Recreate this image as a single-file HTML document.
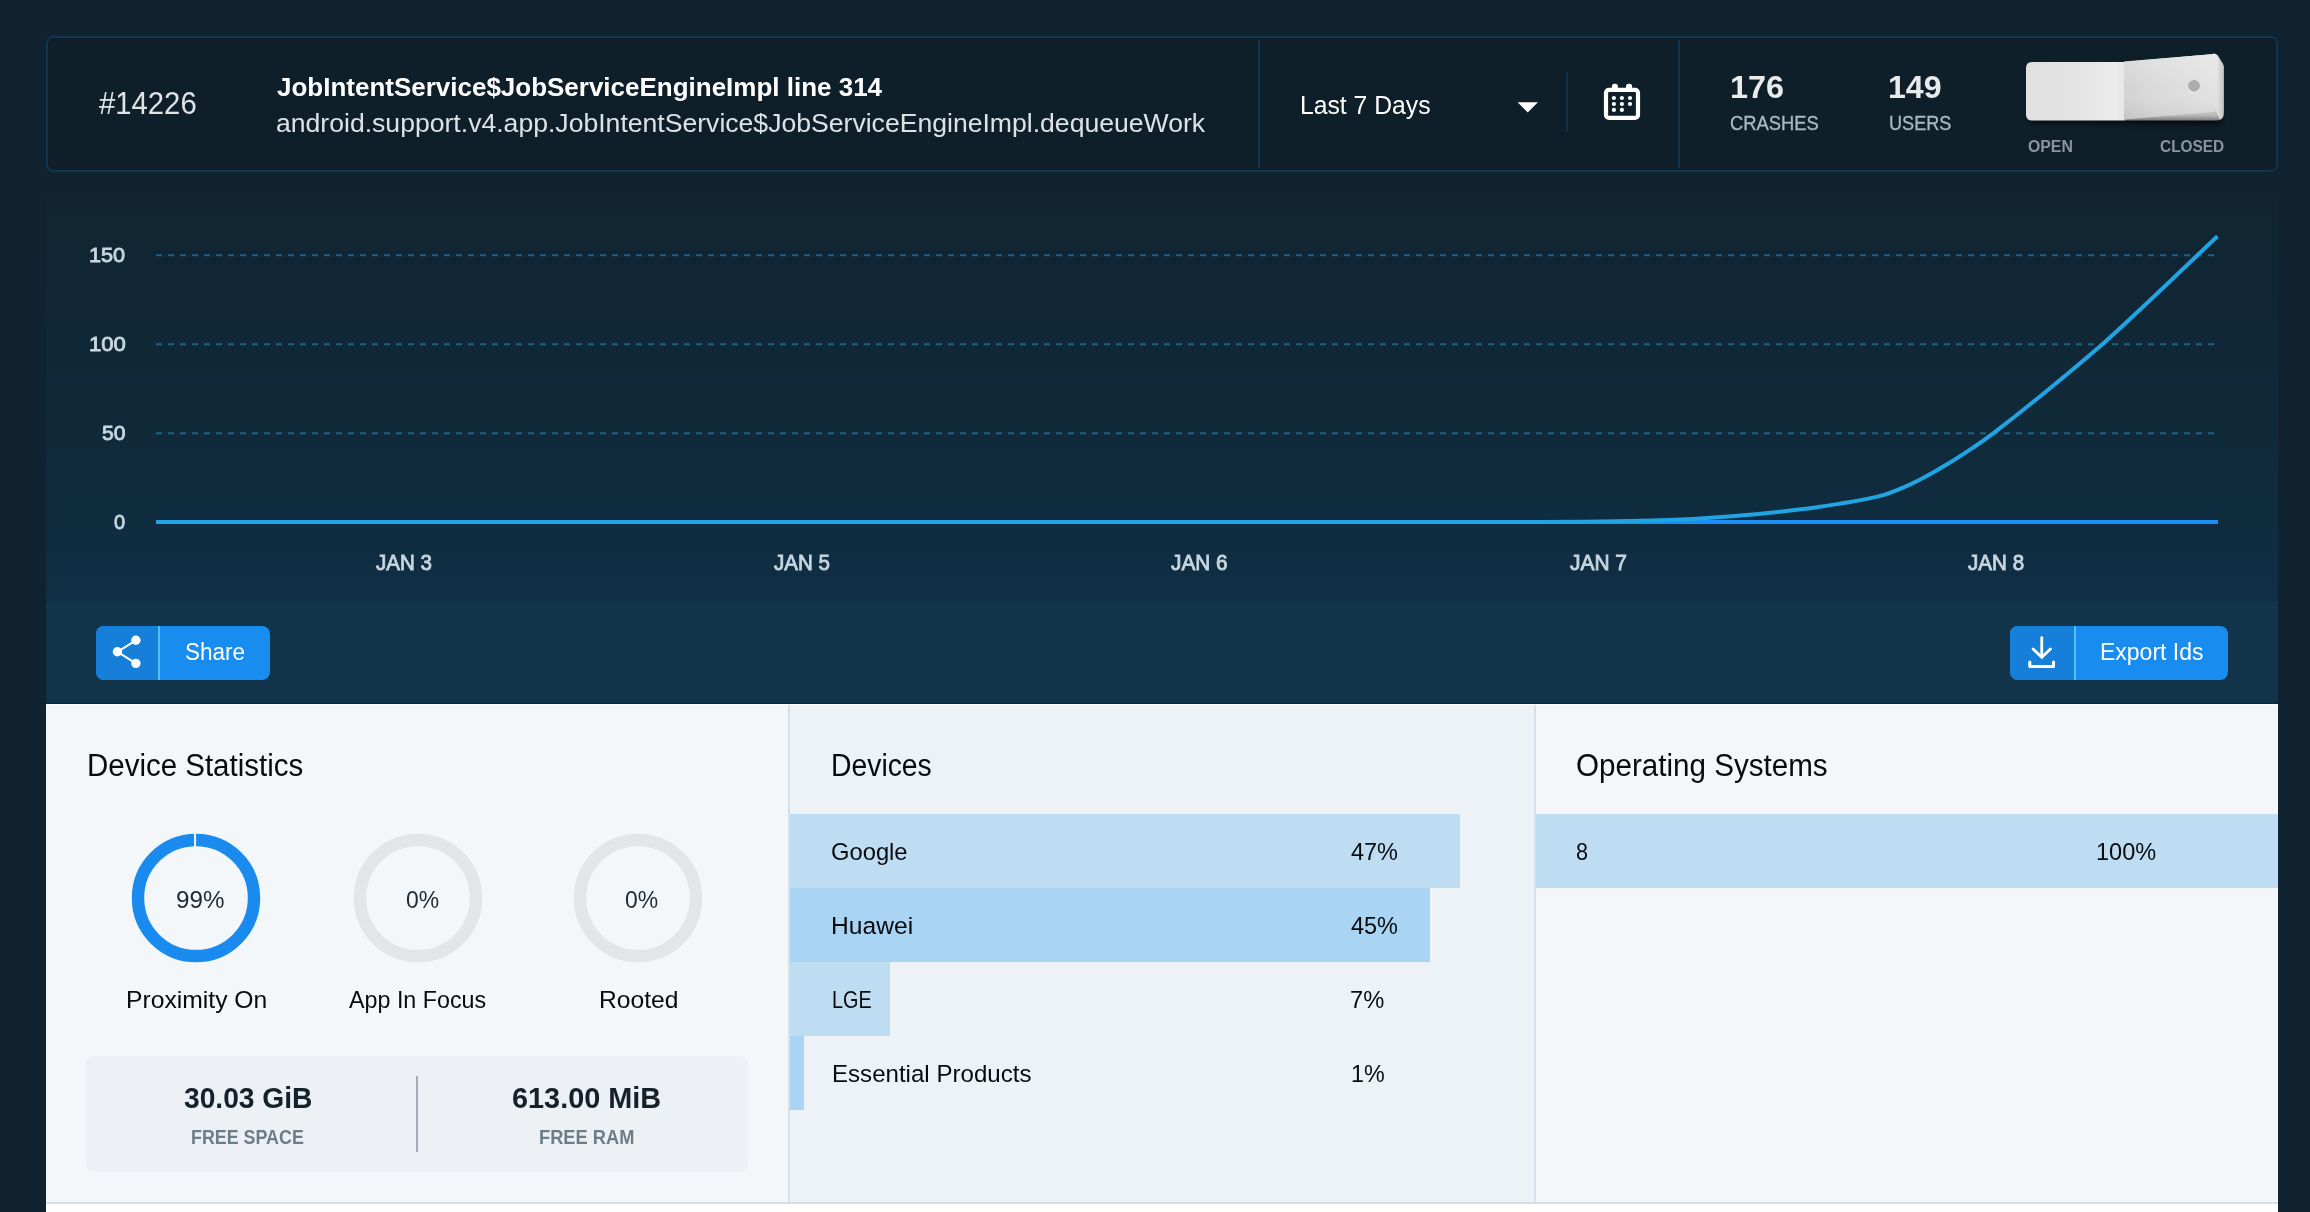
<!DOCTYPE html>
<html lang="en">
<head>
<meta charset="utf-8">
<title>Crash #14226</title>
<style>
*{box-sizing:border-box;margin:0;padding:0}
html,body{width:2310px;height:1212px;overflow:hidden}
body{background:#112330;font-family:"Liberation Sans",sans-serif;position:relative}
.abs{position:absolute}
.t{position:absolute;white-space:nowrap;line-height:1;transform-origin:0 0;display:block}
#hdr{position:absolute;left:46px;top:36px;width:2232px;height:136px;border:2px solid #12354f;border-radius:7px;background:#0e1f29}
#hdr .vsep{position:absolute;top:2px;width:2px;height:128px;background:#11334d}
#chart{position:absolute;left:46px;top:172px;width:2232px;height:430px;background:linear-gradient(to bottom,#112330 0%,#112431 6%,#102938 55%,#0f2f45 100%)}
#actions{position:absolute;left:46px;top:602px;width:2232px;height:102px;background:#11344a;border-bottom:1px solid #072a43}
.btn{position:absolute;top:24px;height:54px;border-radius:8px;background:#198cf0;overflow:hidden}
.btn .ic{position:absolute;left:0;top:0;height:54px;background:#167fda}
.btn .dv{position:absolute;top:0;width:2px;height:54px;background:#4fc3f0}
.panel{position:absolute;top:704px;height:498px;box-shadow:inset 0 1px 0 #fff}
#p1{left:46px;width:742px;background:#f4f7fa}
#p2{left:790px;width:744px;background:#edf2f6}
#p3{left:1536px;width:742px;background:#f4f7fa}
.psep{position:absolute;top:704px;width:2px;height:498px;background:#d7e0e8;box-shadow:inset 0 1px 0 #f6f9fb}
.bar{position:absolute;left:0;height:74px}
#foot{position:absolute;left:46px;top:1202px;width:2232px;height:10px;background:#ffffff;border-top:2px solid #d6dfe8}
#statbox{position:absolute;left:40px;top:352px;width:662px;height:116px;border-radius:7px;background:#edf1f5}
#statbox i{position:absolute;left:330px;top:20px;width:2px;height:76px;background:#a3adb5}
</style>
</head>
<body>

<div id="hdr">
  <div class="vsep" style="left:1210px"></div>
  <div class="vsep" style="left:1630px"></div>
  <div class="abs" style="left:1518px;top:34px;width:2px;height:60px;border-radius:1px;background:#11304a"></div>
  <!-- dropdown caret -->
  <svg class="abs" style="left:1469px;top:64px" width="22" height="12" viewBox="0 0 22 12"><path d="M0.6 0.2 H20.9 L10.75 10.5 Z" fill="#ffffff"/></svg>
  <!-- calendar icon -->
  <svg class="abs" style="left:1554px;top:44px" width="40" height="40" viewBox="0 0 40 40">
    <rect x="4" y="7.95" width="32" height="28" rx="3" fill="none" stroke="#fff" stroke-width="4.2"/>
    <rect x="9.9" y="1.8" width="6" height="6" rx="2.6" fill="#fff"/>
    <rect x="24" y="1.8" width="6.1" height="6" rx="2.6" fill="#fff"/>
    <g fill="#fff">
      <circle cx="11.9" cy="16" r="2.1"/><circle cx="19.9" cy="16" r="2.1"/><circle cx="28" cy="16" r="2.1"/>
      <circle cx="11.9" cy="22" r="2.1"/><circle cx="19.9" cy="22" r="2.1"/><circle cx="28" cy="22" r="2.1"/>
      <circle cx="11.9" cy="27.9" r="2.1"/><circle cx="19.9" cy="27.9" r="2.1"/>
    </g>
  </svg>
  <svg class="abs" style="left:1968px;top:8px" width="220" height="90" viewBox="0 0 220 90">
<defs>
<linearGradient id="gl" x1="0" y1="0" x2="1" y2="0"><stop offset="0" stop-color="#e0e0e0"/><stop offset="0.55" stop-color="#e4e4e4"/><stop offset="0.9" stop-color="#ececec"/><stop offset="1" stop-color="#e6e6e6"/></linearGradient>
<linearGradient id="gr" x1="0" y1="0" x2="1" y2="0"><stop offset="0" stop-color="#d3d3d3"/><stop offset="0.3" stop-color="#dadada"/><stop offset="1" stop-color="#e3e3e3"/></linearGradient>
<linearGradient id="gv" x1="0" y1="0" x2="0" y2="1"><stop offset="0" stop-color="#fff" stop-opacity="0.22"/><stop offset="0.5" stop-color="#fff" stop-opacity="0"/><stop offset="1" stop-color="#000" stop-opacity="0.07"/></linearGradient>
<linearGradient id="gs" x1="0" y1="0" x2="0" y2="1"><stop offset="0" stop-color="#f2f2f2"/><stop offset="0.8" stop-color="#dcdcdc"/><stop offset="0.93" stop-color="#b4b4b4"/><stop offset="1" stop-color="#7c7c7c"/></linearGradient>
<linearGradient id="gside" x1="0" y1="0" x2="1" y2="0"><stop offset="0" stop-color="#f3f3f3"/><stop offset="1" stop-color="#c4c4c4"/></linearGradient>
<filter id="sh" x="-10%" y="-40%" width="120%" height="200%"><feGaussianBlur stdDeviation="2.4"/></filter>
</defs>
<path d="M14.0 71.0 L205.0 69.0 L205.0 78.5 L14.0 77.0 Z" fill="#000" opacity="0.6" filter="url(#sh)"/>
<path d="M108.0 16.0 L198.0 8.0 L207.6 20.0 L207.6 68.0 Q207.6 74.5 201.0 74.5 L108.0 74.5 Z" fill="url(#gs)"/>
<path d="M197.0 7.6 Q200.0 7.4 201.8 9.6 L206.6 17.2 Q207.6 18.8 207.6 21.0 L207.6 67.0 Q207.6 71.5 204.0 73.5 L200.5 66.0 Z" fill="url(#gside)"/>
<path d="M16.0 16.0 L108.6 16.0 L108.6 74.5 L16.0 74.5 Q10.0 74.5 10.0 68.5 L10.0 22.0 Q10.0 16.0 16.0 16.0 Z" fill="url(#gl)"/>
<path d="M108.1 15.6 L195.5 8.2 Q201.4 7.7 201.6 13.5 L201.6 60.5 Q201.6 65.6 196.5 66.0 L108.1 73.6 Z" fill="url(#gr)"/>
<path d="M108.1 15.6 L195.5 8.2 Q201.4 7.7 201.6 13.5 L201.6 60.5 Q201.6 65.6 196.5 66.0 L108.1 73.6 Z" fill="url(#gv)"/>
<circle cx="178" cy="40.0" r="5.9" fill="#adadad"/>
<path d="M172.6 43.2 A6.1 6.1 0 0 0 183.4 43.2" fill="none" stroke="#f4f4f4" stroke-width="1.2" opacity="0.9"/>
</svg>
  <span class="t" style="left:50.70px;top:50.01px;font-size:31.0px;font-weight:400;color:#dfe3e6;transform:scaleX(0.9442)">#14226</span>
  <span class="t" style="left:229.00px;top:36.01px;font-size:26.2px;font-weight:700;color:#ffffff;transform:scaleX(0.9922)">JobIntentService$JobServiceEngineImpl line 314</span>
  <span class="t" style="left:228.48px;top:72.01px;font-size:26.2px;font-weight:400;color:#dde2e6;transform:scaleX(1.0152)">android.support.v4.app.JobIntentService$JobServiceEngineImpl.dequeueWork</span>
  <span class="t" style="left:1251.71px;top:54.01px;font-size:26.2px;font-weight:400;color:#ffffff;transform:scaleX(0.9443)">Last 7 Days</span>
  <span class="t" style="left:1681.98px;top:33.01px;font-size:32.0px;font-weight:700;color:#e8eaec;transform:scaleX(1.0120)">176</span>
  <span class="t" style="left:1682.11px;top:74.52px;font-size:20.6px;font-weight:400;color:#a9b8c3;transform:scaleX(0.8914);-webkit-text-stroke:0.35px #a9b8c3">CRASHES</span>
  <span class="t" style="left:1839.89px;top:33.01px;font-size:32.0px;font-weight:700;color:#e8eaec;transform:scaleX(1.0041)">149</span>
  <span class="t" style="left:1840.52px;top:74.52px;font-size:20.6px;font-weight:400;color:#a9b8c3;transform:scaleX(0.8784);-webkit-text-stroke:0.35px #a9b8c3">USERS</span>
  <span class="t" style="left:1980.00px;top:101.01px;font-size:16.0px;font-weight:700;color:#8b959d;transform:scaleX(0.9891)">OPEN</span>
  <span class="t" style="left:2111.90px;top:101.01px;font-size:16.0px;font-weight:700;color:#8b959d;transform:scaleX(0.9634)">CLOSED</span>
</div>

<div id="chart">
  <svg class="abs" style="left:0;top:0" width="2232" height="430" viewBox="0 0 2232 430">
<line x1="110" x2="2172" y1="83.25" y2="83.25" stroke="#1c6385" stroke-width="2.2" stroke-dasharray="6 6"/>
<line x1="110" x2="2172" y1="172.25" y2="172.25" stroke="#1c6385" stroke-width="2.2" stroke-dasharray="6 6"/>
<line x1="110" x2="2172" y1="261.25" y2="261.25" stroke="#1c6385" stroke-width="2.2" stroke-dasharray="6 6"/>
<line x1="110" x2="2172" y1="350" y2="350" stroke="#1b8df5" stroke-width="4"/>
<path d="M110.0 350.0 C317.3 350.0 1123.3 350.0 1354.0 350.0 C1584.7 350.0 1460.7 350.1 1494.0 350.0 C1527.3 349.9 1535.3 349.8 1554.0 349.6 C1572.7 349.4 1588.7 349.2 1606.0 348.6 C1623.3 348.0 1640.6 347.3 1657.9 346.2 C1675.2 345.1 1692.5 343.8 1709.8 342.2 C1727.1 340.6 1747.4 338.3 1761.8 336.5 C1776.2 334.7 1786.3 332.9 1796.4 331.3 C1806.5 329.7 1815.2 328.1 1822.4 326.6 C1829.6 325.1 1833.9 324.1 1839.7 322.3 C1845.5 320.5 1851.2 318.1 1857.0 315.7 C1862.8 313.2 1867.1 311.4 1874.3 307.6 C1881.5 303.8 1891.6 298.1 1900.3 292.8 C1909.0 287.6 1918.4 281.4 1926.3 276.1 C1934.2 270.8 1936.4 269.6 1947.5 261.1 C1958.6 252.6 1974.8 240.0 1993.0 225.2 C2011.2 210.4 2038.2 188.0 2056.4 172.2 C2074.6 156.4 2086.1 145.0 2101.9 130.2 C2117.7 115.4 2139.8 94.2 2151.4 83.2 C2163.0 72.2 2168.2 67.4 2171.5 64.2" fill="none" stroke="#20a4e4" stroke-width="4" stroke-linejoin="round"/>
</svg>
  <span class="t" style="left:43.27px;top:72.30px;font-size:21.1px;font-weight:400;color:#c7d6e0;transform:scaleX(1.0280);-webkit-text-stroke:0.85px #c7d6e0">150</span>
  <span class="t" style="left:42.55px;top:161.30px;font-size:21.1px;font-weight:400;color:#c7d6e0;transform:scaleX(1.0489);-webkit-text-stroke:0.85px #c7d6e0">100</span>
  <span class="t" style="left:55.90px;top:250.30px;font-size:21.1px;font-weight:400;color:#c7d6e0;transform:scaleX(1.0030);-webkit-text-stroke:0.85px #c7d6e0">50</span>
  <span class="t" style="left:68.30px;top:339.30px;font-size:21.1px;font-weight:400;color:#c7d6e0;transform:scaleX(0.9455);-webkit-text-stroke:0.85px #c7d6e0">0</span>
  <span class="t" style="left:330.00px;top:380.41px;font-size:21.6px;font-weight:400;color:#c7d6e0;transform:scaleX(0.9525);-webkit-text-stroke:0.85px #c7d6e0">JAN 3</span>
  <span class="t" style="left:728.30px;top:380.41px;font-size:21.6px;font-weight:400;color:#c7d6e0;transform:scaleX(0.9525);-webkit-text-stroke:0.85px #c7d6e0">JAN 5</span>
  <span class="t" style="left:1125.40px;top:380.41px;font-size:21.6px;font-weight:400;color:#c7d6e0;transform:scaleX(0.9627);-webkit-text-stroke:0.85px #c7d6e0">JAN 6</span>
  <span class="t" style="left:1523.70px;top:380.41px;font-size:21.6px;font-weight:400;color:#c7d6e0;transform:scaleX(0.9690);-webkit-text-stroke:0.85px #c7d6e0">JAN 7</span>
  <span class="t" style="left:1921.50px;top:380.41px;font-size:21.6px;font-weight:400;color:#c7d6e0;transform:scaleX(0.9542);-webkit-text-stroke:0.85px #c7d6e0">JAN 8</span>
</div>

<div id="actions">
  <div class="btn" style="left:50px;width:174px">
    <div class="ic" style="width:62px"></div><div class="dv" style="left:62px"></div>
    <svg class="abs" style="left:14px;top:8px" width="36" height="38" viewBox="0 0 36 38">
      <path d="M25.9 6.3 L7.4 17.8 L25.9 29.4" fill="none" stroke="#fff" stroke-width="2" stroke-linejoin="round"/>
      <circle cx="25.9" cy="6.3" r="4.7" fill="#fff"/><circle cx="7.4" cy="17.8" r="4.7" fill="#fff"/><circle cx="25.9" cy="29.4" r="4.7" fill="#fff"/>
    </svg>
  </div>
  <div class="btn" style="left:1964px;width:218px">
    <div class="ic" style="width:64px"></div><div class="dv" style="left:64px"></div>
    <svg class="abs" style="left:16px;top:8px" width="32" height="36" viewBox="0 0 32 36">
      <path d="M15.75 3.6 V23" fill="none" stroke="#fff" stroke-width="2.8" stroke-linecap="round"/>
      <path d="M7.1 15 L15.75 23.3 L24.4 14.9" fill="none" stroke="#fff" stroke-width="2.8" stroke-linecap="round" stroke-linejoin="miter"/>
      <path d="M3.8 28 V32.4 H27.5 V28" fill="none" stroke="#fff" stroke-width="3" stroke-linecap="round" stroke-linejoin="round"/>
    </svg>
  </div>
  <span class="t" style="left:138.82px;top:39.01px;font-size:23.0px;font-weight:400;color:#ffffff;transform:scaleX(0.9801)">Share</span>
  <span class="t" style="left:2054.00px;top:39.01px;font-size:23.0px;font-weight:400;color:#ffffff;transform:scaleX(0.9996)">Export Ids</span>
</div>

<div class="panel" id="p1">
  <svg class="abs" style="left:0;top:0" width="742" height="300" viewBox="0 0 742 300">
<circle cx="150" cy="194" r="58" fill="none" stroke="#1a8bee" stroke-width="12.4"/>
<rect x="148.0" y="129" width="2.1" height="14" fill="#e9f1f9"/>
<circle cx="372" cy="194" r="58" fill="none" stroke="#e2e6e9" stroke-width="12.4"/>
<circle cx="592" cy="194" r="58" fill="none" stroke="#e2e6e9" stroke-width="12.4"/>
</svg>
  <div id="statbox"><i></i></div>
  <span class="t" style="left:41.10px;top:46.01px;font-size:31.0px;font-weight:400;color:#070b0e;transform:scaleX(0.9506)">Device Statistics</span>
  <span class="t" style="left:129.81px;top:184.01px;font-size:24.5px;font-weight:400;color:#1c2b36;transform:scaleX(0.9862)">99%</span>
  <span class="t" style="left:359.90px;top:184.01px;font-size:24.5px;font-weight:400;color:#1c2b36;transform:scaleX(0.9357)">0%</span>
  <span class="t" style="left:579.30px;top:184.01px;font-size:24.5px;font-weight:400;color:#1c2b36;transform:scaleX(0.9357)">0%</span>
  <span class="t" style="left:80.18px;top:284.01px;font-size:24.1px;font-weight:400;color:#070b0e;transform:scaleX(1.0244)">Proximity On</span>
  <span class="t" style="left:302.90px;top:284.01px;font-size:24.1px;font-weight:400;color:#070b0e;transform:scaleX(0.9661)">App In Focus</span>
  <span class="t" style="left:552.78px;top:284.01px;font-size:24.1px;font-weight:400;color:#070b0e;transform:scaleX(1.0227)">Rooted</span>
  <span class="t" style="left:138.00px;top:378.00px;font-size:30.4px;font-weight:700;color:#15222c;transform:scaleX(0.9275)">30.03 GiB</span>
  <span class="t" style="left:145.15px;top:423.00px;font-size:20.9px;font-weight:700;color:#6d7d88;transform:scaleX(0.8549)">FREE SPACE</span>
  <span class="t" style="left:465.55px;top:378.00px;font-size:30.4px;font-weight:700;color:#15222c;transform:scaleX(0.9494)">613.00 MiB</span>
  <span class="t" style="left:492.53px;top:423.00px;font-size:20.9px;font-weight:700;color:#6d7d88;transform:scaleX(0.8745)">FREE RAM</span>
</div>
<div class="psep" style="left:788px"></div>
<div class="panel" id="p2">
  <div class="bar" style="top:110px;width:670px;background:#bfddf2"></div>
  <div class="bar" style="top:184px;width:640px;background:#a9d4f4"></div>
  <div class="bar" style="top:258px;width:100px;background:#bfddf2"></div>
  <div class="bar" style="top:332px;width:14px;background:#a9d4f4"></div>
  <span class="t" style="left:41.17px;top:46.01px;font-size:31.0px;font-weight:400;color:#070b0e;transform:scaleX(0.9141)">Devices</span>
  <span class="t" style="left:40.61px;top:136.01px;font-size:24.1px;font-weight:400;color:#070b0e;transform:scaleX(0.9857)">Google</span>
  <span class="t" style="left:40.98px;top:210.01px;font-size:24.1px;font-weight:400;color:#070b0e;transform:scaleX(1.0218)">Huawei</span>
  <span class="t" style="left:41.68px;top:284.01px;font-size:24.1px;font-weight:400;color:#070b0e;transform:scaleX(0.8231)">LGE</span>
  <span class="t" style="left:41.60px;top:358.01px;font-size:24.1px;font-weight:400;color:#070b0e;transform:scaleX(0.9995)">Essential Products</span>
  <span class="t" style="left:561.00px;top:136.01px;font-size:24.5px;font-weight:400;color:#070b0e;transform:scaleX(0.9575)">47%</span>
  <span class="t" style="left:561.00px;top:210.01px;font-size:24.5px;font-weight:400;color:#070b0e;transform:scaleX(0.9575)">45%</span>
  <span class="t" style="left:560.03px;top:284.01px;font-size:24.5px;font-weight:400;color:#070b0e;transform:scaleX(0.9665)">7%</span>
  <span class="t" style="left:560.55px;top:358.01px;font-size:24.5px;font-weight:400;color:#070b0e;transform:scaleX(0.9517)">1%</span>
</div>
<div class="psep" style="left:1534px"></div>
<div class="panel" id="p3">
  <div class="bar" style="top:110px;width:742px;background:#bfddf2"></div>
  <span class="t" style="left:39.65px;top:46.01px;font-size:31.0px;font-weight:400;color:#070b0e;transform:scaleX(0.9546)">Operating Systems</span>
  <span class="t" style="left:39.62px;top:136.01px;font-size:24.5px;font-weight:400;color:#070b0e;transform:scaleX(0.8833)">8</span>
  <span class="t" style="left:559.54px;top:136.01px;font-size:24.5px;font-weight:400;color:#070b0e;transform:scaleX(0.9610)">100%</span>
</div>
<div id="foot"></div>

</body>
</html>
